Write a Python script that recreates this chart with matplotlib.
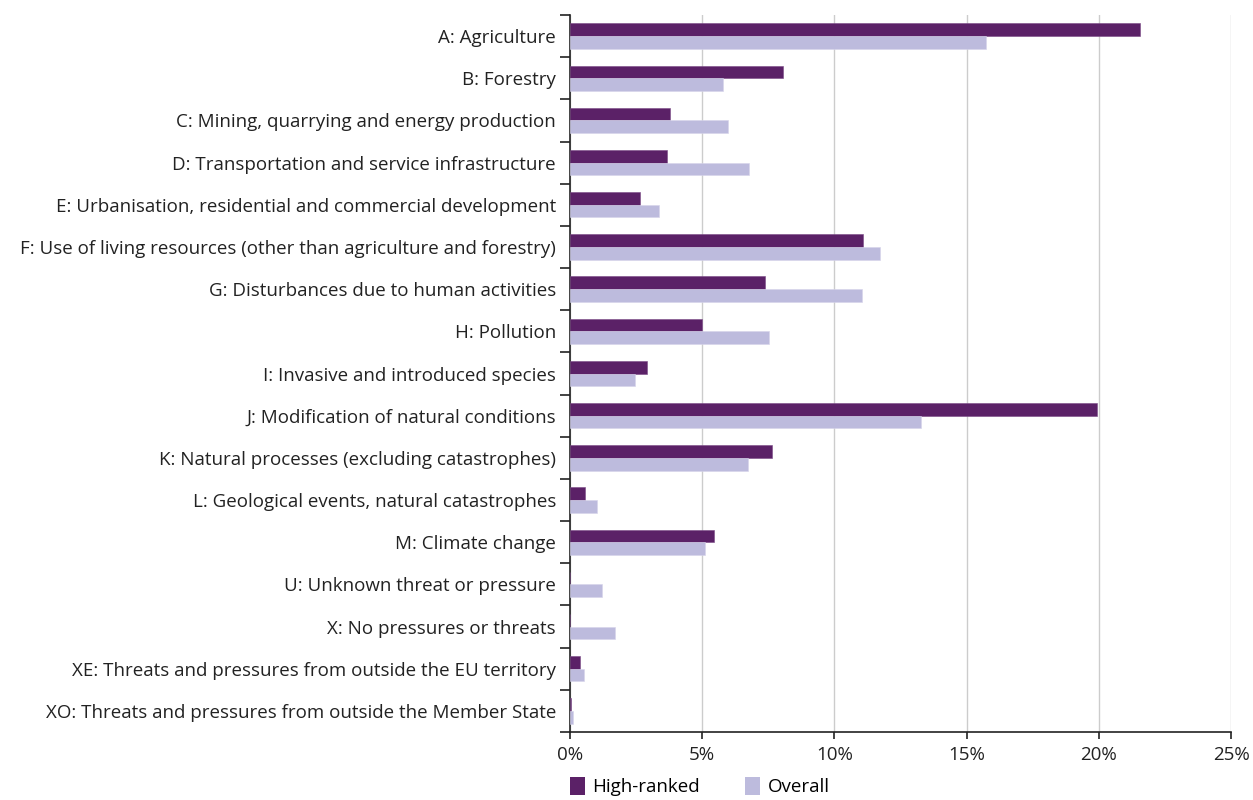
import numpy as np
import matplotlib
matplotlib.use("Agg")
import matplotlib.pyplot as plt
from matplotlib.patches import Patch
from matplotlib.ticker import PercentFormatter

plt.rcParams["font.family"] = ["Open Sans", "DejaVu Sans"]

CATEGORIES = [
    "A: Agriculture",
    "B: Forestry",
    "C: Mining, quarrying and energy production",
    "D: Transportation and service infrastructure",
    "E: Urbanisation, residential and commercial development",
    "F: Use of living resources (other than agriculture and forestry)",
    "G: Disturbances due to human activities",
    "H: Pollution",
    "I: Invasive and introduced species",
    "J: Modification of natural conditions",
    "K: Natural processes (excluding catastrophes)",
    "L: Geological events, natural catastrophes",
    "M: Climate change",
    "U: Unknown threat or pressure",
    "X: No pressures or threats",
    "XE: Threats and pressures from outside the EU territory",
    "XO: Threats and pressures from outside the Member State",
]
HIGH_RANKED = [21.55, 8.06, 3.78, 3.67, 2.64, 11.07, 7.37, 5.01, 2.90, 19.94,
               7.65, 0.56, 5.46, 0.0, 0.0, 0.37, 0.03]
OVERALL = [15.73, 5.79, 5.98, 6.76, 3.35, 11.72, 11.04, 7.53, 2.44, 13.27,
           6.72, 1.03, 5.12, 1.20, 1.72, 0.54, 0.12]
SERIES_NAMES = ["High-ranked", "Overall"]

C_HIGH = "#5b2167"
C_OVER = "#bdbbdd"
FS = 13.5

fig = plt.figure(figsize=(12.53, 8), dpi=100)
ax = fig.add_axes([570 / 1253, 1 - 732 / 800, 661 / 1253, 717 / 800])

y = np.arange(len(CATEGORIES))
h = 0.3
ax.barh(y - h / 2, HIGH_RANKED, h, color=C_HIGH, edgecolor="#7a4a86", linewidth=0.4, zorder=3)
ax.barh(y + h / 2, OVERALL, h, color=C_OVER, edgecolor="#d6d4ea", linewidth=0.4, zorder=3)

ax.set_xlim(0, 25)
ax.set_ylim(len(CATEGORIES) - 0.5, -0.5)
ax.set_xticks(np.arange(0, 26, 5))
ax.xaxis.set_major_formatter(PercentFormatter(decimals=0))
ax.set_yticks(y)
ax.set_yticklabels(CATEGORIES)
ax.set_yticks(np.arange(-0.5, len(CATEGORIES), 1), minor=True)
ax.tick_params(axis="y", which="major", length=0, pad=10, labelsize=FS, labelcolor="#222222")
ax.tick_params(axis="y", which="minor", length=7, width=1.2, color="#222222")
ax.tick_params(axis="x", length=5, width=1.2, color="#222222", labelsize=FS, labelcolor="#222222", pad=5)

ax.grid(axis="x", color="#cccccc", linewidth=1, zorder=0)
ax.set_axisbelow(True)
for s in ["top", "right"]:
    ax.spines[s].set_visible(False)
for s in ["left", "bottom"]:
    ax.spines[s].set_color("#222222")
    ax.spines[s].set_linewidth(1.2)

handles = [Patch(facecolor=C_HIGH), Patch(facecolor=C_OVER)]
fig.legend(handles, SERIES_NAMES, loc="lower left", bbox_to_anchor=(553 / 1253, -0.016),
           ncol=2, frameon=False, fontsize=FS, handlelength=0.8, handleheight=1.1,
           handletextpad=0.4, columnspacing=2.4)

fig.savefig("out.png", dpi=100)
